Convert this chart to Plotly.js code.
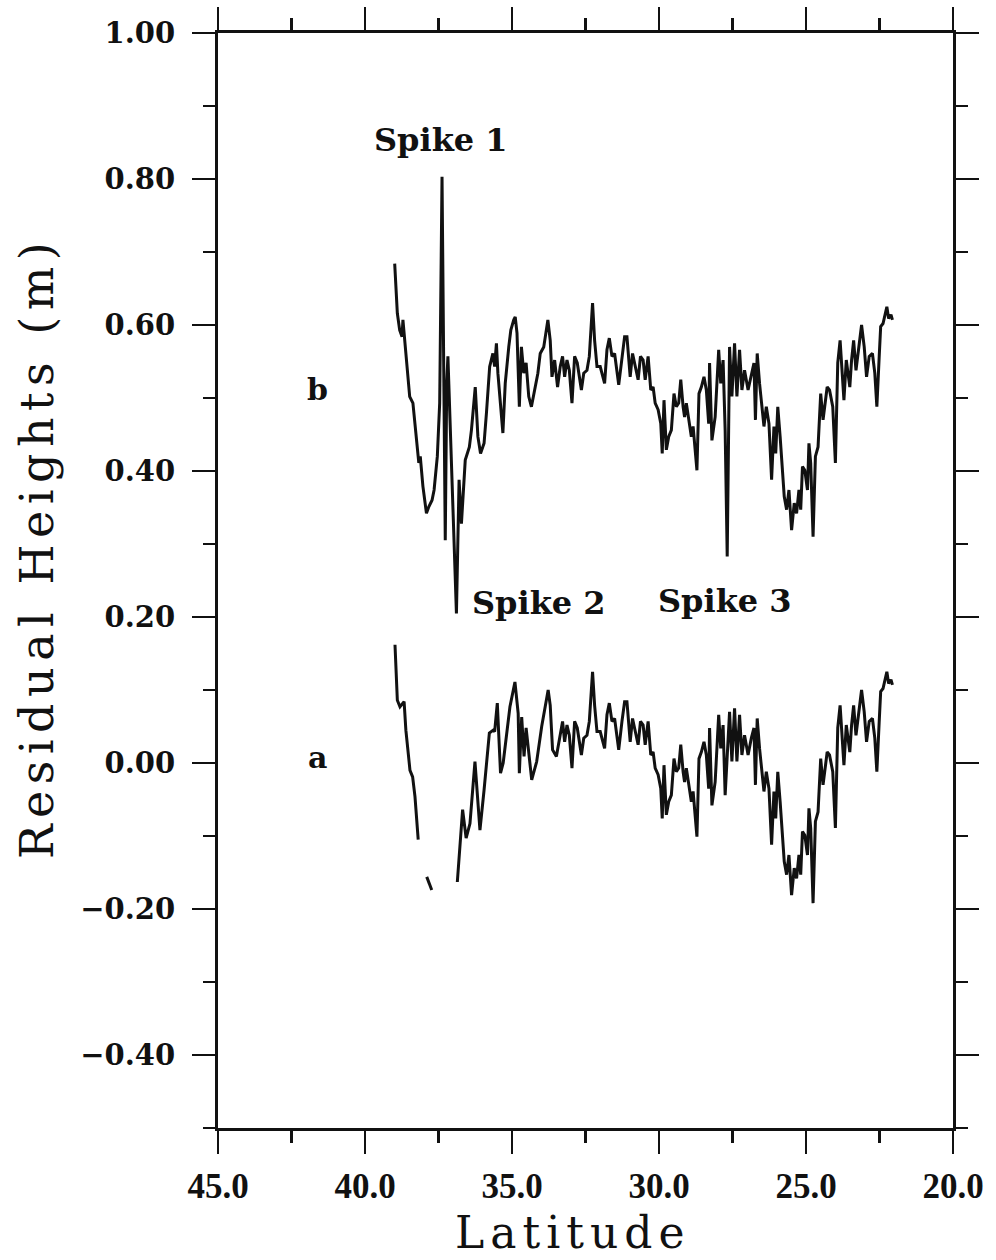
<!DOCTYPE html>
<html>
<head>
<meta charset="utf-8">
<script src="https://cdn.plot.ly/plotly-3.0.1.min.js"></script>
<style>
html, body { margin: 0; padding: 0; background: #fff; }
#chart { width: 996px; height: 1260px; }
.annotation[data-index="5"] text { letter-spacing: 6px; }
.annotation[data-index="6"] text { letter-spacing: 6.5px; }
</style>
</head>
<body>
<div id="chart"></div>
<script>
// Profile b (with spikes)
const latB = [38.99,38.90,38.82,38.74,38.71,38.65,38.48,38.37,38.25,38.17,38.12,38.03,37.91,37.83,37.72,37.65,37.54,37.46,37.38,37.31,37.27,37.22,37.18,36.89,36.80,36.72,36.59,36.45,36.38,36.25,36.16,36.07,35.95,35.87,35.76,35.65,35.59,35.53,35.48,35.31,35.23,35.11,35.04,34.94,34.89,34.83,34.75,34.68,34.60,34.52,34.43,34.34,34.23,34.12,34.04,33.92,33.78,33.70,33.64,33.55,33.45,33.36,33.28,33.21,33.13,33.05,32.96,32.87,32.78,32.64,32.56,32.45,32.37,32.26,32.19,32.11,32.00,31.85,31.77,31.69,31.60,31.51,31.37,31.26,31.17,31.09,30.98,30.90,30.71,30.63,30.54,30.47,30.37,30.28,30.20,30.13,30.03,29.94,29.89,29.83,29.75,29.67,29.58,29.49,29.41,29.33,29.26,29.18,29.13,29.07,28.96,28.90,28.84,28.77,28.71,28.64,28.56,28.47,28.39,28.31,28.28,28.20,28.09,27.97,27.90,27.82,27.75,27.68,27.60,27.52,27.43,27.35,27.26,27.18,27.09,26.97,26.86,26.77,26.72,26.66,26.58,26.43,26.35,26.26,26.17,26.09,26.03,25.96,25.88,25.83,25.74,25.66,25.58,25.49,25.40,25.32,25.24,25.18,25.12,25.04,24.95,24.90,24.84,24.76,24.68,24.59,24.50,24.42,24.28,24.20,24.09,24.00,23.92,23.84,23.71,23.63,23.51,23.45,23.38,23.30,23.21,23.11,23.02,22.94,22.85,22.74,22.66,22.59,22.51,22.46,22.38,22.32,22.25,22.19,22.11,22.06];
const valB = [0.684,0.616,0.593,0.584,0.607,0.579,0.502,0.493,0.447,0.411,0.420,0.379,0.342,0.351,0.360,0.374,0.420,0.493,0.803,0.538,0.305,0.520,0.557,0.205,0.388,0.328,0.415,0.433,0.456,0.515,0.447,0.424,0.438,0.479,0.543,0.561,0.543,0.575,0.534,0.452,0.520,0.570,0.593,0.607,0.611,0.589,0.488,0.570,0.534,0.548,0.502,0.488,0.511,0.534,0.561,0.570,0.607,0.579,0.529,0.552,0.515,0.543,0.557,0.529,0.552,0.538,0.493,0.557,0.548,0.511,0.534,0.538,0.557,0.630,0.579,0.543,0.543,0.520,0.566,0.582,0.557,0.561,0.518,0.557,0.584,0.584,0.529,0.561,0.525,0.557,0.552,0.525,0.557,0.511,0.515,0.493,0.484,0.465,0.424,0.497,0.429,0.447,0.456,0.506,0.488,0.493,0.525,0.488,0.474,0.493,0.465,0.447,0.461,0.424,0.401,0.506,0.515,0.529,0.511,0.465,0.548,0.442,0.474,0.566,0.520,0.552,0.456,0.283,0.570,0.502,0.575,0.502,0.566,0.511,0.538,0.511,0.534,0.548,0.470,0.561,0.520,0.461,0.488,0.465,0.388,0.461,0.424,0.488,0.447,0.415,0.365,0.347,0.374,0.319,0.356,0.342,0.374,0.347,0.406,0.401,0.374,0.438,0.411,0.310,0.420,0.433,0.506,0.470,0.515,0.511,0.488,0.411,0.548,0.579,0.497,0.552,0.515,0.552,0.579,0.538,0.566,0.600,0.570,0.529,0.557,0.561,0.534,0.488,0.557,0.598,0.602,0.611,0.625,0.609,0.614,0.607];

// Profile a (spikes edited out; null = gap in the record)
const latA = [38.98,38.90,38.81,38.67,38.61,38.47,38.38,38.30,38.19,null,37.90,37.73,null,36.86,36.68,36.56,36.43,36.26,36.09,35.95,35.77,35.64,35.59,35.50,35.39,35.30,35.07,34.90,34.79,34.75,34.67,34.59,34.52,34.33,34.16,33.99,33.77,33.70,33.62,33.49,33.31,33.28,33.21,33.13,33.05,32.96,32.87,32.78,32.64,32.56,32.45,32.37,32.26,32.19,32.11,32.00,31.85,31.77,31.69,31.60,31.51,31.37,31.26,31.17,31.09,30.98,30.90,30.71,30.63,30.54,30.47,30.37,30.28,30.20,30.13,30.03,29.94,29.89,29.83,29.75,29.67,29.58,29.49,29.41,29.33,29.26,29.18,29.13,29.07,28.96,28.90,28.84,28.77,28.71,28.64,28.56,28.47,28.39,28.31,28.28,28.20,28.09,27.97,27.90,27.82,27.75,27.60,27.52,27.43,27.35,27.26,27.18,27.09,26.97,26.86,26.77,26.72,26.66,26.58,26.43,26.35,26.26,26.17,26.09,26.03,25.96,25.88,25.83,25.74,25.66,25.58,25.49,25.40,25.32,25.24,25.18,25.12,25.04,24.95,24.90,24.84,24.76,24.68,24.59,24.50,24.42,24.28,24.20,24.09,24.00,23.92,23.84,23.71,23.63,23.51,23.45,23.38,23.30,23.21,23.11,23.02,22.94,22.85,22.74,22.66,22.59,22.51,22.46,22.38,22.32,22.25,22.19,22.11,22.06];
const valA = [0.162,0.086,0.077,0.084,0.045,-0.010,-0.019,-0.046,-0.105,null,-0.156,-0.174,null,-0.163,-0.064,-0.103,-0.083,0.002,-0.092,-0.037,0.041,0.045,0.043,0.082,-0.014,0.000,0.077,0.111,0.068,-0.014,0.063,0.009,0.048,-0.023,0.002,0.050,0.100,0.079,0.018,0.009,0.050,0.057,0.029,0.052,0.038,-0.007,0.057,0.048,0.011,0.034,0.038,0.057,0.125,0.079,0.043,0.043,0.020,0.066,0.082,0.057,0.061,0.018,0.057,0.084,0.084,0.029,0.061,0.025,0.057,0.052,0.025,0.057,0.011,0.015,-0.007,-0.016,-0.035,-0.076,-0.003,-0.071,-0.053,-0.044,0.006,-0.012,-0.007,0.025,-0.012,-0.026,-0.007,-0.035,-0.053,-0.039,-0.076,-0.101,0.006,0.015,0.029,0.011,-0.035,0.048,-0.058,-0.026,0.066,0.020,0.052,-0.044,0.070,0.002,0.075,0.002,0.066,0.011,0.038,0.011,0.034,0.048,-0.030,0.061,0.020,-0.039,-0.012,-0.035,-0.112,-0.039,-0.076,-0.012,-0.053,-0.085,-0.135,-0.153,-0.126,-0.181,-0.144,-0.158,-0.126,-0.153,-0.094,-0.099,-0.126,-0.062,-0.089,-0.192,-0.080,-0.067,0.006,-0.030,0.015,0.011,-0.012,-0.089,0.048,0.079,-0.003,0.052,0.015,0.052,0.079,0.038,0.066,0.100,0.070,0.029,0.057,0.061,0.034,-0.012,0.057,0.098,0.102,0.111,0.125,0.109,0.114,0.107];

const xTickVals = [45, 40, 35, 30, 25, 20];
const xTickText = ['45.0', '40.0', '35.0', '30.0', '25.0', '20.0'];

const lineStyle = {color: '#111', width: 3};

const traces = [
  {x: latB, y: valB, mode: 'lines', line: lineStyle, name: 'b', connectgaps: false},
  {x: latA, y: valA, mode: 'lines', line: lineStyle, name: 'a', connectgaps: false}
];

const serif = 'DejaVu Serif, serif';
const spikeFont = {family: serif, size: 32, color: '#111', weight: 'bold'};
const labFont = {family: serif, size: 30, color: '#111', weight: 'bold'};
const titleFont = {family: serif, size: 46, color: '#111'};
const xTitleFont = {family: serif, size: 44, color: '#111'};

const layout = {
  width: 996, height: 1260,
  margin: {l: 218, r: 43, t: 33, b: 132},
  paper_bgcolor: '#fff', plot_bgcolor: '#fff',
  showlegend: false,
  xaxis: {
    range: [45, 20],
    tickvals: xTickVals, ticktext: xTickText,
    ticks: 'outside', ticklen: 23, tickwidth: 2.5, tickcolor: '#111',
    minor: {dtick: 2.5, tick0: 0, ticks: 'outside', ticklen: 12, tickwidth: 2.5, tickcolor: '#111'},
    showline: true, linecolor: '#111', linewidth: 3, mirror: 'ticks',
    showgrid: false, zeroline: false,
    tickfont: {family: 'Liberation Serif, serif', size: 35, color: '#111', weight: 'bold'},
    ticklabelstandoff: 2
  },
  yaxis: {
    range: [-0.5, 1.0],
    tick0: 0, dtick: 0.2, tickformat: '.2f',
    ticks: 'outside', ticklen: 23, tickwidth: 2.5, tickcolor: '#111',
    minor: {dtick: 0.1, ticks: 'outside', ticklen: 12, tickwidth: 2.5, tickcolor: '#111'},
    showline: true, linecolor: '#111', linewidth: 3, mirror: 'ticks',
    showgrid: false, zeroline: false,
    tickfont: {family: serif, size: 29, color: '#111', weight: 'bold'},
    ticklabelstandoff: 11
  },
  annotations: [
    {x: 37.4, y: 0.853, xref: 'x', yref: 'y', text: 'Spike 1', showarrow: false, font: spikeFont},
    {x: 34.08, y: 0.219, xref: 'x', yref: 'y', text: 'Spike 2', showarrow: false, font: spikeFont},
    {x: 27.76, y: 0.222, xref: 'x', yref: 'y', text: 'Spike 3', showarrow: false, font: spikeFont},
    {x: 41.6, y: 0.512, xref: 'x', yref: 'y', text: 'b', showarrow: false, font: labFont},
    {x: 41.63, y: 0.008, xref: 'x', yref: 'y', text: 'a', showarrow: false, font: labFont},
    {x: 0.482, y: -0.1195, xref: 'paper', yref: 'paper', text: 'Latitude', showarrow: false, font: xTitleFont, xanchor: 'center', yanchor: 'bottom', borderpad: 0},
    {x: -0.247, y: 0.53, xref: 'paper', yref: 'paper', text: 'Residual Heights (m)', textangle: -90, showarrow: false, font: titleFont, xanchor: 'center', yanchor: 'middle'}
  ]
};

Plotly.newPlot('chart', traces, layout, {staticPlot: true, displayModeBar: false});
</script>
</body>
</html>
